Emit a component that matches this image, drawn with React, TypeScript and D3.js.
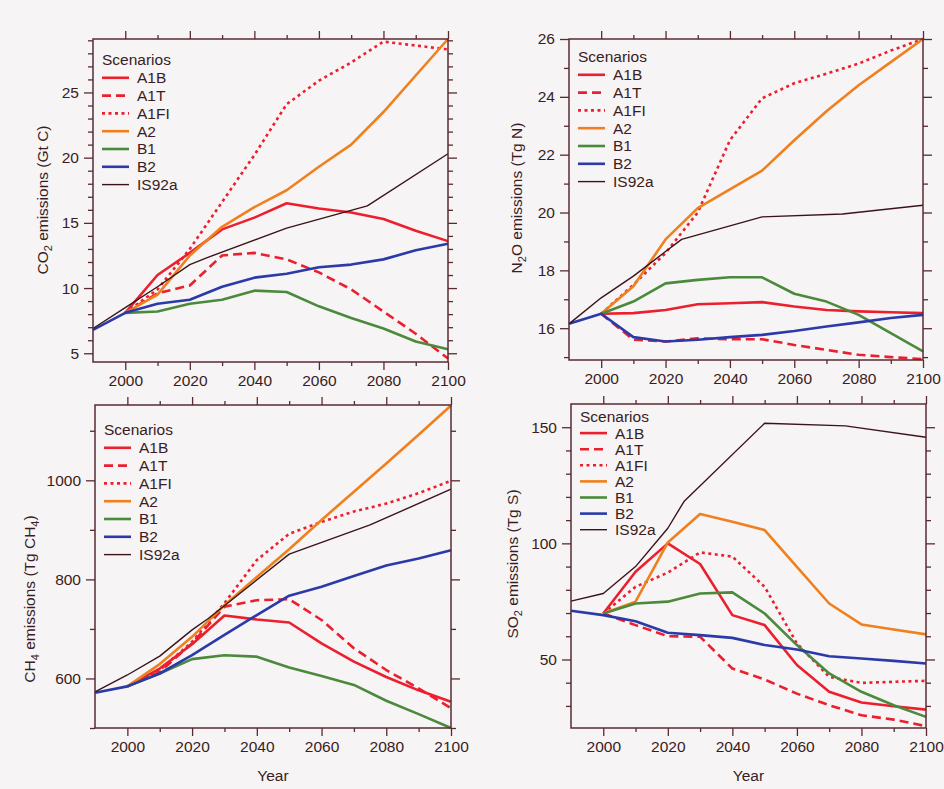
import React, { useRef, useEffect } from 'react';
import * as d3 from 'd3';

// years
const sresYears = [2000, 2010, 2020, 2030, 2040, 2050, 2060, 2070, 2080, 2090, 2100];
const b2Years = [1990, 2000, 2010, 2020, 2030, 2040, 2050, 2060, 2070, 2080, 2090, 2100];
const is92Years = [1990, 2000, 2010, 2020, 2025, 2050, 2075, 2100];

const scenarioNames = ['A1B', 'A1T', 'A1FI', 'A2', 'B1', 'B2', 'IS92a'];

// CO2 (Gt C)
const co2A1B = [8.1, 11.0, 12.7, 14.5, 15.4, 16.5, 16.1, 15.8, 15.3, 14.4, 13.6];
const co2A1T = [8.1, 9.6, 10.2, 12.5, 12.7, 12.2, 11.2, 9.9, 8.2, 6.5, 4.6];
const co2A1FI = [8.1, 9.9, 13.0, 16.6, 20.2, 24.1, 25.9, 27.3, 28.9, 28.6, 28.3];
const co2A2 = [8.1, 9.5, 12.5, 14.7, 16.2, 17.5, 19.3, 21.0, 23.5, 26.3, 29.1];
const co2B1 = [8.1, 8.2, 8.8, 9.1, 9.8, 9.7, 8.6, 7.7, 6.9, 5.9, 5.3];
const co2B2 = [6.8, 8.1, 8.8, 9.1, 10.1, 10.8, 11.1, 11.6, 11.8, 12.2, 12.9, 13.4];
const co2IS92a = [6.9, 8.5, 10.1, 11.8, 12.3, 14.6, 16.3, 20.3];

// N2O (Tg N)
const n2oA1B = [16.5, 16.52, 16.63, 16.83, 16.86, 16.9, 16.75, 16.63, 16.58, 16.55, 16.52];
const n2oA1T = [16.5, 15.6, 15.54, 15.65, 15.62, 15.62, 15.42, 15.25, 15.08, 15.0, 14.93];
const n2oA1FI = [16.5, 17.5, 18.6, 20.0, 22.5, 23.95, 24.47, 24.8, 25.15, 25.6, 26.0];
const n2oA2 = [16.5, 17.45, 19.07, 20.15, 20.8, 21.45, 22.5, 23.5, 24.4, 25.2, 26.0];
const n2oB1 = [16.5, 16.92, 17.55, 17.67, 17.76, 17.76, 17.19, 16.92, 16.46, 15.83, 15.2];
const n2oB2 = [16.15, 16.5, 15.69, 15.54, 15.6, 15.69, 15.77, 15.9, 16.06, 16.2, 16.35, 16.46];
const n2oIS92a = [16.15, 17.05, 17.8, 18.65, 19.07, 19.85, 19.95, 20.25];

// CH4 (Tg CH4)
const ch4A1B = [584, 620, 669, 727, 719, 713, 671, 634, 603, 576, 553];
const ch4A1T = [584, 613, 671, 745, 758, 760, 718, 661, 617, 580, 540];
const ch4A1FI = [584, 617, 674, 752, 839, 892, 916, 937, 953, 974, 999];
const ch4A2 = [584, 629, 684, 748, 805, 861, 920, 977, 1034, 1092, 1151];
const ch4B1 = [584, 610, 639, 647, 644, 622, 605, 587, 555, 528, 500];
const ch4B2 = [571, 584, 610, 647, 688, 728, 767, 785, 807, 828, 842, 859];
const ch4IS92a = [573, 607, 645, 698, 721, 851, 910, 982];

// SO2 (Tg S)
const so2A1B = [69.8, 87.8, 100, 91.1, 69.1, 64.8, 47.6, 36.1, 31.5, 29.9, 28.4];
const so2A1T = [69.8, 64.8, 60, 59.8, 46.1, 41.4, 35.3, 30.3, 26, 24.1, 21.3];
const so2A1FI = [69.8, 81.3, 87.4, 96.1, 94.3, 81.3, 56.9, 42.5, 39.9, 40.4, 40.8];
const so2A2 = [69.8, 74.9, 100.4, 112.6, 109.3, 105.7, 89.9, 74.1, 65.1, 62.9, 60.8];
const so2B1 = [69.8, 74.1, 74.9, 78.4, 78.9, 69.8, 56.2, 44, 36.1, 30.3, 25.3];
const so2B2 = [71, 69.1, 66.5, 61.5, 60.5, 59.3, 56.2, 54.3, 51.4, 50.4, 49.4, 48.3];
const so2IS92a = [75.1, 78.4, 90, 106.5, 118, 151.7, 150.6, 145.7];

const styles = {
  A1B: { color: '#ec1f2e', width: 2.6, dash: null },
  A1T: { color: '#ec1f2e', width: 2.6, dash: '9,5' },
  A1FI: { color: '#ec1f2e', width: 2.6, dash: '3,3.5' },
  A2: { color: '#f0801e', width: 2.6, dash: null },
  B1: { color: '#4b8a3c', width: 2.6, dash: null },
  B2: { color: '#2b3aa8', width: 2.6, dash: null },
  IS92a: { color: '#3a1419', width: 1.4, dash: null }
};

const panels = [
  {
    gas: 'CO', sub: '2', unit: 'Gt C', left: 93, top: 39, right: 448, bottom: 362,
    yDomain: [4.33, 29.1], yMajor: [5, 10, 15, 20, 25], yMinorStep: 1,
    labelX: 43, labelY: 200, legX: 102, legY: 60, legStep: 17.8, yearLabel: false,
    series: [co2A1B, co2A1T, co2A1FI, co2A2, co2B1, co2B2, co2IS92a]
  },
  {
    gas: 'N', sub: '2', after: 'O', unit: 'Tg N', left: 569, top: 39, right: 923, bottom: 360,
    yDomain: [14.9, 26], yMajor: [16, 18, 20, 22, 24, 26], yMinorStep: 1,
    labelX: 517, labelY: 198, legX: 578, legY: 57, legStep: 17.8, yearLabel: false,
    series: [n2oA1B, n2oA1T, n2oA1FI, n2oA2, n2oB1, n2oB2, n2oIS92a]
  },
  {
    gas: 'CH', sub: '4', unit: 'Tg CH', unitSub: '4', left: 95, top: 405, right: 451, bottom: 728,
    yDomain: [500, 1152], yMajor: [600, 800, 1000], yMinorStep: 100,
    labelX: 30, labelY: 599, legX: 104, legY: 430, legStep: 17.8, yearLabel: true,
    series: [ch4A1B, ch4A1T, ch4A1FI, ch4A2, ch4B1, ch4B2, ch4IS92a]
  },
  {
    gas: 'SO', sub: '2', unit: 'Tg S', left: 571, top: 404, right: 926, bottom: 728,
    yDomain: [20.5, 160], yMajor: [50, 100, 150], yMinorStep: 10,
    labelX: 513, labelY: 564, legX: 580, legY: 417, legStep: 16.1, yearLabel: true,
    series: [so2A1B, so2A1T, so2A1FI, so2A2, so2B1, so2B2, so2IS92a]
  }
];

const AXIS = '#5a2a33';
const TEXT = '#3a1c22';
const FONT = '"Liberation Sans", Arial, Helvetica, sans-serif';

function App() {
  const ref = useRef(null);

  useEffect(() => {
    const svg = d3.select(ref.current);
    svg.selectAll('*').remove();
    svg.append('rect').attr('width', 944).attr('height', 789).attr('fill', '#f6f4f4');

    panels.forEach(p => {
      const x = d3.scaleLinear().domain([1990, 2100]).range([p.left, p.right]);
      const y = d3.scaleLinear().domain(p.yDomain).range([p.bottom, p.top]);
      const g = svg.append('g');

      const xMajor = [2000, 2020, 2040, 2060, 2080, 2100];
      const xMinor = [2010, 2030, 2050, 2070, 2090];
      const yMinor = d3.range(Math.ceil(p.yDomain[0] / p.yMinorStep) * p.yMinorStep, p.yDomain[1], p.yMinorStep)
        .filter(v => !p.yMajor.includes(v));

      const axes = [
        { ax: d3.axisBottom(x).tickValues(xMajor).tickSize(8).tickPadding(5).tickFormat(d3.format('d')), t: `translate(0,${p.bottom})` },
        { ax: d3.axisBottom(x).tickValues(xMinor).tickSize(4).tickFormat(() => ''), t: `translate(0,${p.bottom})` },
        { ax: d3.axisTop(x).tickValues(xMajor).tickSize(8).tickFormat(() => ''), t: `translate(0,${p.top})` },
        { ax: d3.axisTop(x).tickValues(xMinor).tickSize(4).tickFormat(() => ''), t: `translate(0,${p.top})` },
        { ax: d3.axisLeft(y).tickValues(p.yMajor).tickSize(9).tickPadding(5).tickFormat(d3.format('d')), t: `translate(${p.left},0)` },
        { ax: d3.axisLeft(y).tickValues(yMinor).tickSize(5).tickFormat(() => ''), t: `translate(${p.left},0)` },
        { ax: d3.axisRight(y).tickValues(p.yMajor).tickSize(9).tickFormat(() => ''), t: `translate(${p.right},0)` },
        { ax: d3.axisRight(y).tickValues(yMinor).tickSize(5).tickFormat(() => ''), t: `translate(${p.right},0)` }
      ];
      axes.forEach(a => {
        const ag = g.append('g').attr('transform', a.t).call(a.ax);
        ag.select('.domain').remove();
        ag.selectAll('line').attr('stroke', AXIS).attr('stroke-width', 1.3);
        ag.selectAll('text').attr('fill', TEXT).style('font-family', FONT).style('font-size', '15.5px');
      });

      const line = d3.line().x(d => x(d[0])).y(d => y(d[1]));
      p.series.forEach((vals, i) => {
        const name = scenarioNames[i];
        const yrs = name === 'B2' ? b2Years : name === 'IS92a' ? is92Years : sresYears;
        const st = styles[name];
        g.append('path')
          .datum(vals.map((v, j) => [yrs[j], v]))
          .attr('d', line)
          .attr('fill', 'none')
          .attr('stroke', st.color)
          .attr('stroke-width', st.width)
          .attr('stroke-linejoin', 'round')
          .attr('stroke-dasharray', st.dash);
      });

      // frame
      g.append('rect')
        .attr('x', p.left).attr('y', p.top)
        .attr('width', p.right - p.left).attr('height', p.bottom - p.top)
        .attr('fill', 'none').attr('stroke', AXIS).attr('stroke-width', 1.5);

      // legend
      const leg = g.append('g').style('font-family', FONT).style('font-size', '15.5px').attr('fill', TEXT);
      leg.append('text').attr('x', p.legX).attr('y', p.legY).attr('dy', '0.35em').text('Scenarios');
      scenarioNames.forEach((name, i) => {
        const st = styles[name];
        const ly = p.legY + p.legStep * (i + 1);
        leg.append('line')
          .attr('x1', p.legX).attr('x2', p.legX + 27).attr('y1', ly).attr('y2', ly)
          .attr('stroke', st.color).attr('stroke-width', st.width).attr('stroke-dasharray', st.dash);
        leg.append('text').attr('x', p.legX + 35).attr('y', ly).attr('dy', '0.35em').text(name);
      });

      // y label
      const yl = g.append('text')
        .attr('transform', `translate(${p.labelX},${p.labelY}) rotate(-90)`)
        .attr('text-anchor', 'middle').attr('dy', '0.35em')
        .style('font-family', FONT).style('font-size', '15.5px').attr('fill', TEXT);
      yl.append('tspan').text(p.gas);
      yl.append('tspan').attr('dy', 4).style('font-size', '11px').text(p.sub);
      yl.append('tspan').attr('dy', -4).text((p.after || '') + ' emissions (' + p.unit);
      if (p.unitSub) {
        yl.append('tspan').attr('dy', 4).style('font-size', '11px').text(p.unitSub);
        yl.append('tspan').attr('dy', -4).text(')');
      } else {
        yl.append('tspan').text(')');
      }

      if (p.yearLabel) {
        g.append('text')
          .attr('x', (p.left + p.right) / 2).attr('y', 776).attr('dy', '0.35em')
          .attr('text-anchor', 'middle')
          .style('font-family', FONT).style('font-size', '15.5px').attr('fill', TEXT)
          .text('Year');
      }
    });
  }, []);

  return (
    <svg ref={ref} width={944} height={789}
      style={{ position: 'absolute', left: 0, top: 0, display: 'block' }} />
  );
}

export default App;
